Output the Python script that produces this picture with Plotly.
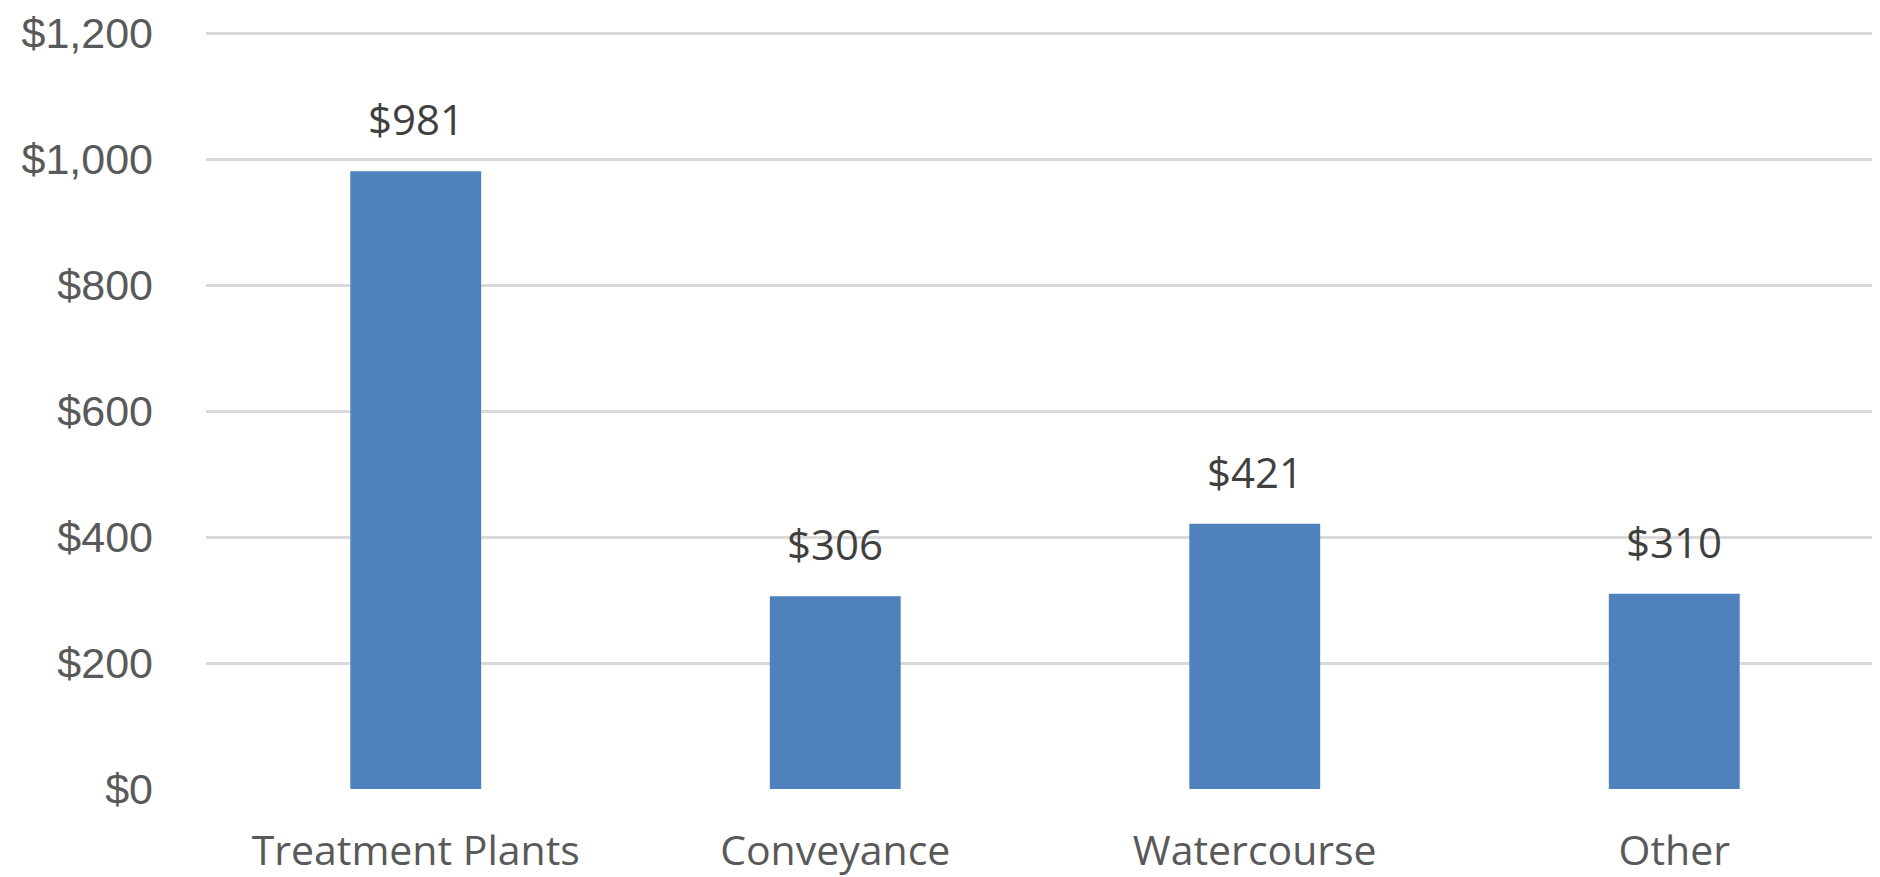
import plotly.graph_objects as go

categories = ["Treatment Plants", "Conveyance", "Watercourse", "Other"]
values = [981, 306, 421, 310]
tick_vals = [0, 200, 400, 600, 800, 1000, 1200]
tick_text = ["$0", "$200", "$400", "$600", "$800", "$1,000", "$1,200"]

FONT = "'Open Sans', 'Noto Sans', sans-serif"
YFONT = "'Liberation Sans', Arial, sans-serif"
GRAY = "#595959"

fig = go.Figure()
fig.add_trace(go.Bar(x=categories, y=values, marker=dict(color="#4f81bd", line=dict(width=0)),
                     hoverinfo="skip"))

for c, v in zip(categories, values):
    fig.add_annotation(x=c, y=v, text=f"${v:,}", showarrow=False, yanchor="bottom",
                       yshift=22, font=dict(family=FONT, size=42, color="#404040"))

fig.update_layout(
    width=1880, height=877,
    margin=dict(l=198, r=4, t=24, b=96, autoexpand=False),
    paper_bgcolor="white", plot_bgcolor="white",
    bargap=0.688, showlegend=False,
    font=dict(family=FONT, color=GRAY, size=42),
)
fig.update_xaxes(showline=False, showgrid=False, ticks="", tickfont=dict(size=41, color=GRAY),
                 ticklabelstandoff=34, automargin=False)
fig.update_yaxes(range=[0, 1202], tickvals=tick_vals, ticktext=tick_text, showgrid=True,
                 gridcolor="#d9d9d9", gridwidth=3, zeroline=False, showline=False, ticks="",
                 tickfont=dict(family=YFONT, size=43, color=GRAY), ticklabelstandoff=52,
                 ticklabeloverflow="allow", automargin=False)

fig.write_html("out.html")
